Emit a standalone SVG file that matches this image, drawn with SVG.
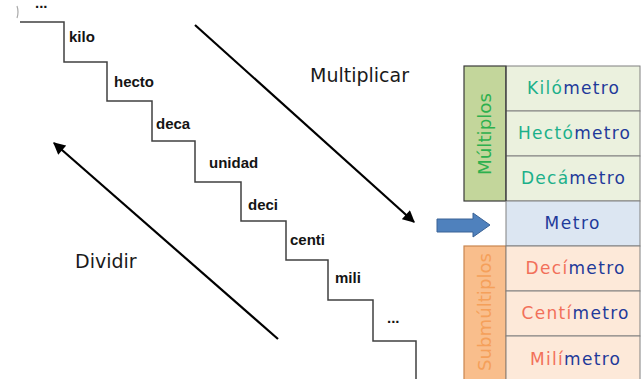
<svg xmlns="http://www.w3.org/2000/svg" width="642" height="379" viewBox="0 0 642 379">
<defs>
<style>
.step{font-family:"Liberation Sans",Arial,sans-serif;font-weight:bold;font-size:15px;fill:#141414}
.big{font-family:"DejaVu Sans",sans-serif;font-size:19px;fill:#1a1a1a}
.cell{font-family:"DejaVu Sans",sans-serif;font-size:17px;text-anchor:middle}
.g{fill:#1BB08A}.b{fill:#1F3A9A}.o{fill:#F2705A}
.rowg{fill:#EBF1DE;stroke:#808080;stroke-width:1}
.rowb{fill:#DCE6F2;stroke:#808080;stroke-width:1}
.rowo{fill:#FDE9D9;stroke:#808080;stroke-width:1}
.arrow{stroke:#000;stroke-width:2.2;fill:none}
</style>
<marker id="ah" viewBox="0 0 10 10" refX="9" refY="5" markerWidth="6" markerHeight="5.5" orient="auto" markerUnits="strokeWidth">
<path d="M0,0 L10,5 L0,10 Z" fill="#000"/>
</marker>
</defs>
<rect width="642" height="379" fill="#fff"/>
<path d="M17,6 Q19,12 17,18" stroke="#aaa" stroke-width="1.2" fill="none"/>
<g id="stairs">
<path d="M20,22 H64 V62 H107 V101 H152 V141 H195 V182 H241 V221 H286 V260 H328 V300 H373 V341 H416 V379" stroke="#404040" stroke-width="1.5" fill="none"/>
</g>
<g id="labels">
<text class="step" x="35" y="8">...</text>
<text class="step" x="69" y="42">kilo</text>
<text class="step" x="114" y="87">hecto</text>
<text class="step" x="156" y="129">deca</text>
<text class="step" x="209" y="168">unidad</text>
<text class="step" x="248" y="210">deci</text>
<text class="step" x="290" y="245">centi</text>
<text class="step" x="335" y="283">mili</text>
<text class="step" x="387" y="323">...</text>
</g>
<g id="connectors">
<line class="arrow" x1="195" y1="25" x2="414" y2="222" marker-end="url(#ah)"/>
<line class="arrow" x1="278" y1="339" x2="54" y2="143" marker-end="url(#ah)"/>
<path d="M437,219 H473 V213 L490,225 L473,237 V232 H437 Z" fill="#4F81BD" stroke="#3A6296" stroke-width="1"/>
</g>
<text class="big" x="310" y="82">Multiplicar</text>
<text class="big" x="75" y="268">Dividir</text>
<g id="multiplos">
<rect x="464" y="66" width="42" height="135" fill="#C3D69B" stroke="#3a3a3a" stroke-width="1.2"/>
<text transform="translate(491,134) rotate(-90)" font-family="DejaVu Sans,sans-serif" font-size="18" fill="#2DB04E" text-anchor="middle" textLength="82" lengthAdjust="spacingAndGlyphs">Múltiplos</text>
</g>
<g id="submultiplos">
<rect x="464" y="246" width="42" height="136" fill="#F9BE8C" stroke="#C98650" stroke-width="1.2"/>
<text transform="translate(491,312) rotate(-90)" font-family="DejaVu Sans,sans-serif" font-size="18" fill="#F5A05A" text-anchor="middle" textLength="118" lengthAdjust="spacingAndGlyphs">Submúltiplos</text>
</g>
<g id="kilometro"><rect class="rowg" x="506" y="66" width="134" height="45"/><text class="cell" x="573" y="94" textLength="92"><tspan class="g">Kiló</tspan><tspan class="b">metro</tspan></text></g>
<g id="hectometro"><rect class="rowg" x="506" y="111" width="134" height="45"/><text class="cell" x="574" y="139" textLength="112"><tspan class="g">Hectó</tspan><tspan class="b">metro</tspan></text></g>
<g id="decametro"><rect class="rowg" x="506" y="156" width="134" height="45"/><text class="cell" x="573" y="184" textLength="104"><tspan class="g">Decá</tspan><tspan class="b">metro</tspan></text></g>
<g id="metro"><rect class="rowb" x="506" y="201" width="134" height="45"/><text class="cell" x="572" y="229" textLength="55"><tspan class="b">Metro</tspan></text></g>
<g id="decimetro"><rect class="rowo" x="506" y="246" width="134" height="45"/><text class="cell" x="575" y="274" textLength="99"><tspan class="o">Decí</tspan><tspan class="b">metro</tspan></text></g>
<g id="centimetro"><rect class="rowo" x="506" y="291" width="134" height="45"/><text class="cell" x="575" y="319" textLength="107"><tspan class="o">Centí</tspan><tspan class="b">metro</tspan></text></g>
<g id="milimetro"><rect class="rowo" x="506" y="336" width="134" height="46"/><text class="cell" x="575" y="365" textLength="90"><tspan class="o">Milí</tspan><tspan class="b">metro</tspan></text></g>
<line x1="506" y1="66" x2="506" y2="201" stroke="#3a3a3a" stroke-width="1.2"/>
</svg>
